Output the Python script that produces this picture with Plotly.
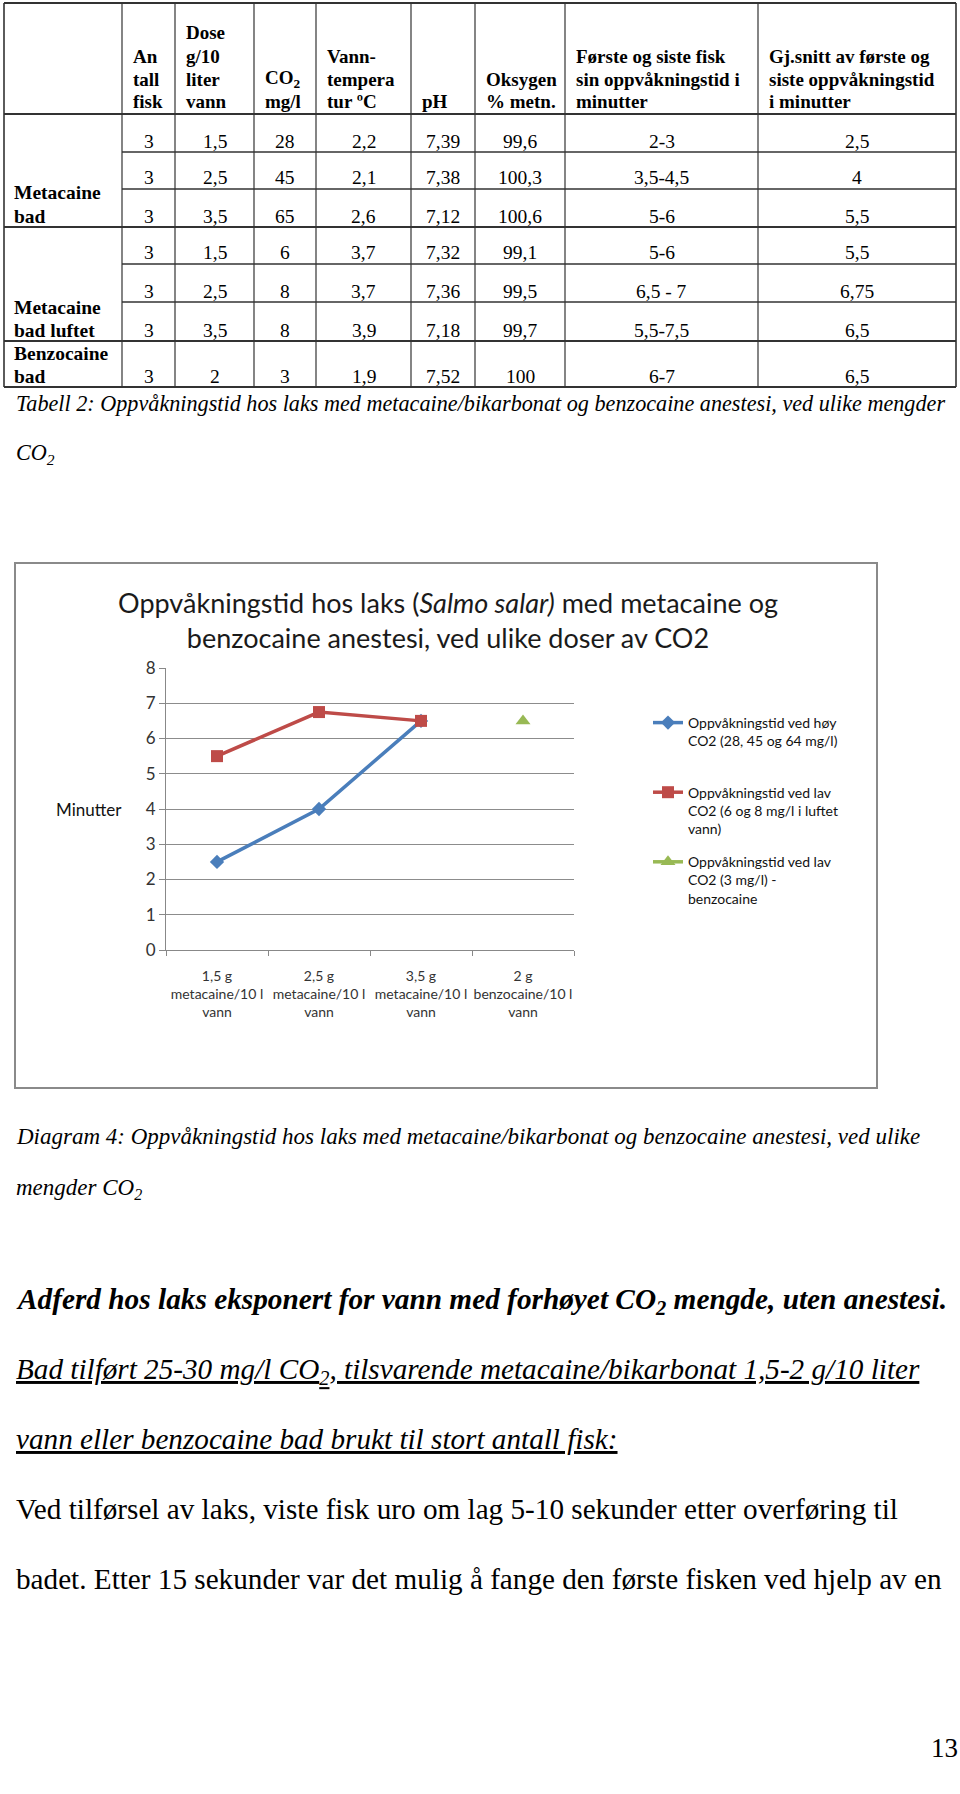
import plotly.graph_objects as go

W, H = 960, 1794
SERIF = "Liberation Serif"
SANS = "Lato"

# ---------------- chart data ----------------
categories = ["1,5 g<br>metacaine/10 l<br>vann", "2,5 g<br>metacaine/10 l<br>vann",
              "3,5 g<br>metacaine/10 l<br>vann", "2 g<br>benzocaine/10 l<br>vann"]
high_co2 = [2.5, 4, 6.5, None]
low_co2 = [5.5, 6.75, 6.5, None]
benzo_low = [None, None, None, 6.5]
series_names = ["Oppvåkningstid ved høy<br>CO2 (28, 45 og 64 mg/l)<br> ",
                "Oppvåkningstid ved lav<br>CO2 (6 og 8 mg/l i luftet<br>vann)",
                "Oppvåkningstid ved lav<br>CO2 (3 mg/l) -<br>benzocaine"]
y_ticks = [0, 1, 2, 3, 4, 5, 6, 7, 8]

# ---------------- table data ----------------
table_header = [
    [],
    ["An", "tall", "fisk"],
    ["Dose", "g/10", "liter", "vann"],
    ["CO<sub>2</sub>", "mg/l"],
    ["Vann-", "tempera", "tur ºC"],
    ["pH"],
    ["Oksygen", "% metn."],
    ["Første og siste fisk", "sin oppvåkningstid i", "minutter"],
    ["Gj.snitt av første og", "siste oppvåkningstid", "i minutter"],
]
antall = ["3", "3", "3", "3", "3", "3", "3"]
dose = ["1,5", "2,5", "3,5", "1,5", "2,5", "3,5", "2"]
co2 = ["28", "45", "65", "6", "8", "8", "3"]
temp = ["2,2", "2,1", "2,6", "3,7", "3,7", "3,9", "1,9"]
ph = ["7,39", "7,38", "7,12", "7,32", "7,36", "7,18", "7,52"]
oksygen = ["99,6", "100,3", "100,6", "99,1", "99,5", "99,7", "100"]
forste_siste = ["2-3", "3,5-4,5", "5-6", "5-6", "6,5 - 7", "5,5-7,5", "6-7"]
gjsnitt = ["2,5", "4", "5,5", "5,5", "6,75", "6,5", "6,5"]
group_labels = [["Metacaine", "bad"], ["Metacaine", "bad luftet"], ["Benzocaine", "bad"]]

# layout geometry (pixels)
col_x = [4, 122, 175, 254, 316, 411, 475, 565, 758, 956]
row_y = [3, 114, 152, 189, 227, 264, 302, 341, 387]


def X(px):
    return px / W


def Y(py):
    return 1 - py / H


fig = go.Figure()

fig.add_trace(go.Scatter(x=categories, y=high_co2, name=series_names[0], mode="lines+markers",
                         line=dict(color="#4a7ebb", width=3.5),
                         marker=dict(symbol="diamond", size=11, color="#4a7ebb"),
                         legendgroup="a"))
fig.add_trace(go.Scatter(x=categories, y=low_co2, name=series_names[1], mode="lines+markers",
                         line=dict(color="#be4b48", width=3.5),
                         marker=dict(symbol="square", size=12, color="#be4b48"),
                         legendgroup="b"))
fig.add_trace(go.Scatter(x=categories, y=benzo_low, name=series_names[2], mode="lines+markers",
                         line=dict(color="#98b954", width=3.5),
                         marker=dict(symbol="triangle-up", size=13, color="#98b954"),
                         legendgroup="c"))

shapes = []
ann = []


def text(t, x, y, size, xanchor="left", bold=False, italic=False, family=SERIF,
         color="black", underline=False):
    ann.append(dict(text=t, x=X(x), y=Y(y), xref="paper", yref="paper",
                    xanchor=xanchor, yanchor="middle", showarrow=False,
                    font=dict(family=family, size=size, color=color,
                              weight="bold" if bold else "normal",
                              style="italic" if italic else "normal",
                              lineposition="under" if underline else "none")))


def hline(y, x0, x1, w=1.2, color="#333"):
    shapes.append(dict(type="line", xref="paper", yref="paper", x0=X(x0), x1=X(x1),
                       y0=Y(y), y1=Y(y), line=dict(color=color, width=w)))


def vline(x, y0, y1, w=1.2, color="#333"):
    shapes.append(dict(type="line", xref="paper", yref="paper", x0=X(x), x1=X(x),
                       y0=Y(y0), y1=Y(y1), line=dict(color=color, width=w)))


# ---- table lines ----
for i, yy in enumerate(row_y):
    thick = i in (0, 1, 4, 7, 8)
    if thick:
        hline(yy, col_x[0], col_x[-1], w=2.2)
    else:
        hline(yy, col_x[1], col_x[-1], w=1.3)
for i, xx in enumerate(col_x):
    vline(xx, row_y[0], row_y[-1], w=1.6 if i in (0, len(col_x) - 1) else 1.2)

# ---- header text ----
header_line_y = [33, 56, 79, 102]
for c, lines in enumerate(table_header):
    n = len(lines)
    for k, ln in enumerate(lines):
        text(ln, col_x[c] + 9, header_line_y[4 - n + k], 19, bold=True)

# ---- table body ----
columns = [antall, dose, co2, temp, ph, oksygen, forste_siste, gjsnitt]
for r in range(7):
    yy = row_y[r + 2] - 11
    for c, col in enumerate(columns):
        cx = (col_x[c + 1] + col_x[c + 2]) / 2
        text(col[r], cx, yy, 19.5, xanchor="center")

label_rows = [3, 6, 7]
for g, lines in enumerate(group_labels):
    bottom = row_y[label_rows[g] + 1] - 11
    text(lines[0], 12, bottom - 23, 19.5, bold=True)
    text(lines[1], 12, bottom, 19.5, bold=True)

# ---- captions and page text ----
text("Tabell 2: Oppvåkningstid hos laks med metacaine/bikarbonat og benzocaine anestesi, ved ulike mengder",
     14, 403, 22.2, italic=True)
text("CO<sub>2</sub>", 14, 454, 22.2, italic=True)
text("Diagram 4: Oppvåkningstid hos laks med metacaine/bikarbonat og benzocaine anestesi, ved ulike",
     14, 1136, 23, italic=True)
text("mengder CO<sub>2</sub>", 14, 1189, 23, italic=True)
text("Adferd hos laks eksponert for vann med forhøyet CO<sub>2</sub> mengde, uten anestesi.",
     14, 1301, 29.3, bold=True, italic=True)
text("Bad tilført 25-30 mg/l CO<sub>2</sub>, tilsvarende metacaine/bikarbonat 1,5-2 g/10 liter",
     14, 1371, 29.2, italic=True, underline=True)
text("vann eller benzocaine bad brukt til stort antall fisk:", 14, 1439, 29.2, italic=True, underline=True)
text("Ved tilførsel av laks, viste fisk uro om lag 5-10 sekunder etter overføring til",
     14, 1509, 29.2)
text("badet. Etter 15 sekunder var det mulig å fange den første fisken ved hjelp av en",
     14, 1579, 29.2)
text("13", 960, 1748, 27, xanchor="right")

# ---- chart frame and axis title ----
shapes.append(dict(type="rect", xref="paper", yref="paper", x0=X(15), x1=X(877),
                   y0=Y(1088), y1=Y(563), line=dict(color="#8a8a8a", width=2)))
text("Minutter", 89, 809, 17, xanchor="center", family=SANS, color="#111")

fig.update_layout(
    width=W, height=H,
    margin=dict(l=0, r=0, t=0, b=0, pad=0, autoexpand=False),
    paper_bgcolor="white", plot_bgcolor="white",
    title=dict(text="Oppvåkningstid hos laks (<i>Salmo salar)</i> med metacaine og<br>benzocaine anestesi, ved ulike doser av CO2",
               x=X(448), y=Y(613), xanchor="center", yanchor="middle", xref="paper", yref="paper",
               font=dict(family=SANS, size=27, color="#1a1a1a")),
    xaxis=dict(domain=[X(166), X(574)], type="category", range=[-0.5, 3.5],
               tickson="boundaries", ticks="outside", ticklen=5, tickcolor="#888",
               showline=True, linecolor="#888", linewidth=1, showgrid=False, tickangle=0,
               automargin=False,
               tickfont=dict(family=SANS, size=14, color="#333"), ticklabelstandoff=13),
    yaxis=dict(domain=[Y(950), Y(668)], range=[0, 8], tickvals=y_ticks,
               ticks="outside", ticklen=6, tickcolor="#888", showline=True, linecolor="#888",
               showgrid=True, gridcolor="#8c8c8c", gridwidth=1, zeroline=False, automargin=False,
               tickfont=dict(family=SANS, size=17, color="#333")),
    showlegend=True,
    legend=dict(x=X(648), y=Y(707), xanchor="left", yanchor="top", valign="top",
                font=dict(family=SANS, size=14, color="#111"), tracegroupgap=12,
                bgcolor="rgba(0,0,0,0)"),
    shapes=shapes, annotations=ann,
)

fig.write_html("out.html")
